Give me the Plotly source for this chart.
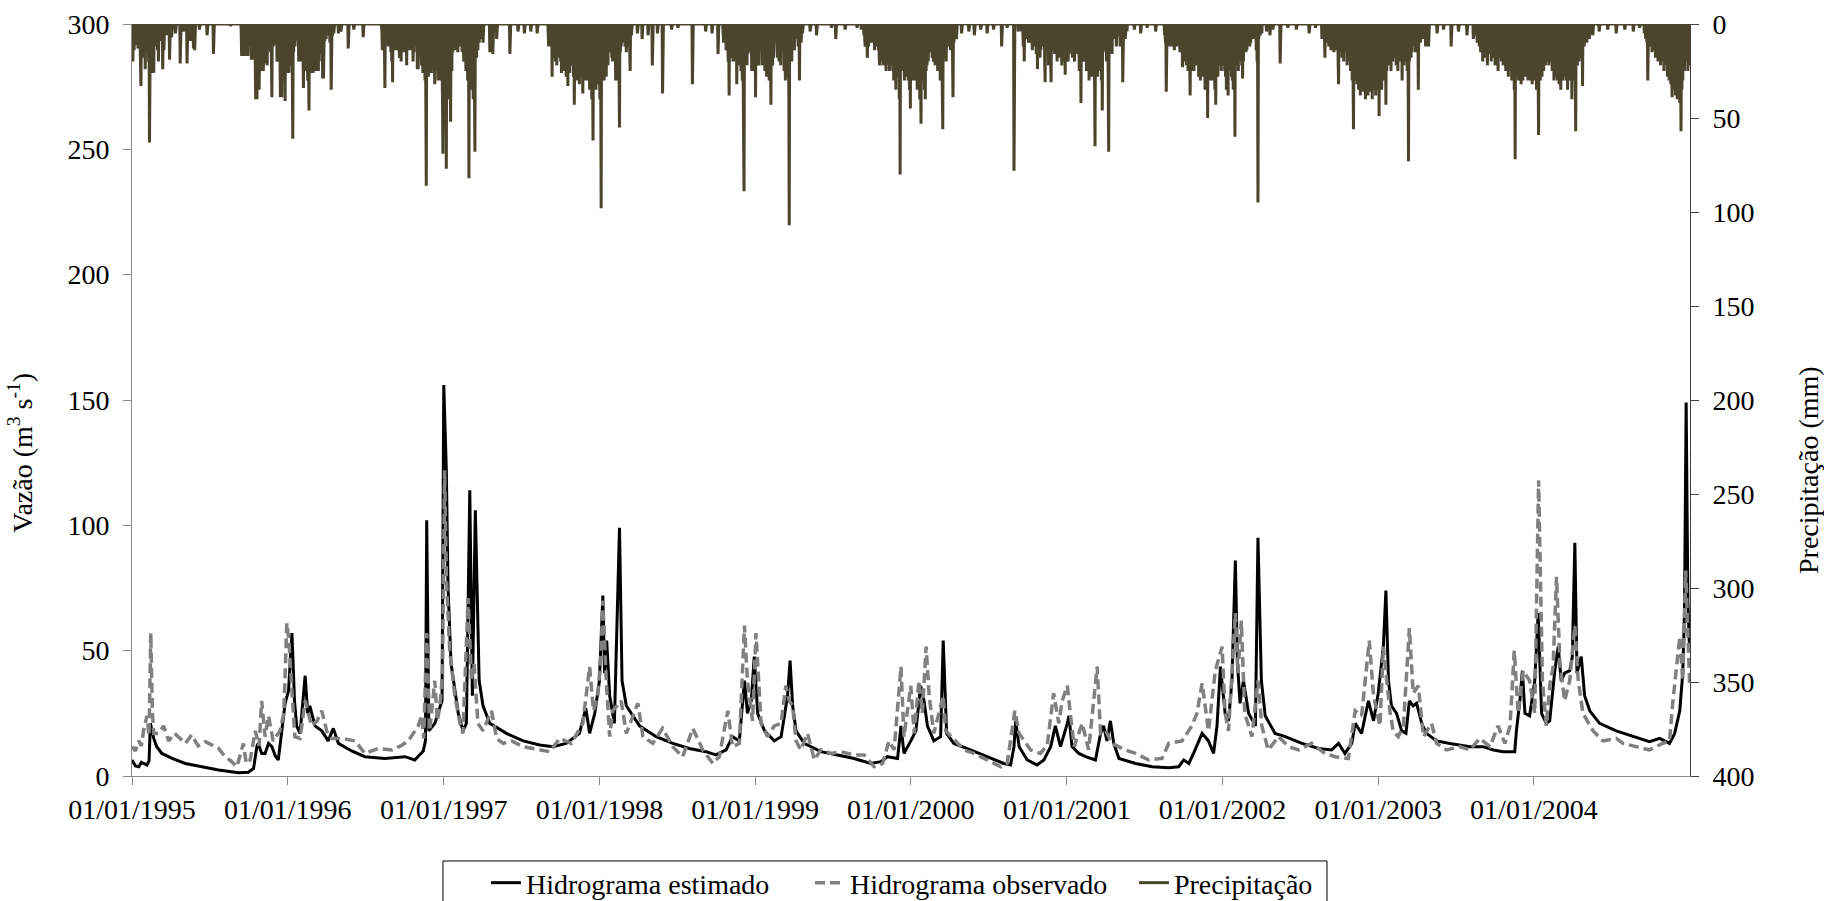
import numpy as np
import pandas as pd
import plotly.graph_objects as go

START = pd.Timestamp("1995-01-01")
N_DAYS = 3653  # 1995-01-01 .. 2004-12-31

# Simulated streamflow (m3/s): day offset from 1995-01-01, discharge
est_points = [
    (0, 6.4), (8, 4), (16, 3.7), (22, 5.5), (27, 5), (35, 4.4), (40, 6), (43, 21), (47, 18), (51, 15),
    (58, 11.7), (70, 9), (94, 7), (125, 5), (164, 3.7), (203, 2.4), (250, 1.3), (273, 1.5), (285, 3),
    (293, 12), (296, 13), (304, 9), (312, 9), (320, 13), (328, 11.7), (336, 8), (343, 6.4), (351, 17),
    (359, 29), (367, 34), (375, 57), (381, 30), (386, 20), (394, 17), (406, 40), (412, 25), (417, 28),
    (429, 20), (445, 18), (460, 14), (472, 19), (484, 13), (515, 10), (546, 7.7), (593, 7), (640, 7.7),
    (663, 6.4), (683, 10), (688, 14), (691, 102), (696, 18), (710, 21), (722, 28), (727, 30), (731, 156),
    (737, 122), (741, 75), (748, 45), (765, 25), (776, 18), (784, 21), (792, 114), (798, 32), (805, 106),
    (814, 38), (823, 28), (839, 21), (878, 17), (917, 14), (956, 12.4), (987, 11.7), (1018, 13),
    (1049, 17), (1064, 27), (1073, 17), (1085, 25), (1096, 38), (1104, 72), (1108, 41), (1113, 54),
    (1120, 32), (1131, 21), (1143, 99), (1149, 38), (1159, 28), (1190, 20), (1229, 15.7), (1268, 13),
    (1307, 11), (1346, 9.7), (1369, 8.4), (1393, 10.4), (1408, 15.7), (1424, 14), (1436, 38), (1443, 25),
    (1452, 30), (1459, 47.6), (1467, 25), (1483, 18), (1506, 14), (1522, 15.7), (1537, 32), (1543, 46),
    (1549, 28), (1557, 18), (1576, 13), (1615, 9.7), (1654, 8.4), (1693, 7), (1732, 5), (1756, 5.7),
    (1771, 7.7), (1795, 7), (1803, 20), (1810, 9), (1826, 14), (1838, 18), (1849, 36), (1857, 30),
    (1865, 20), (1880, 14), (1896, 15.7), (1902, 54), (1910, 17), (1927, 13), (1966, 10.4), (2005, 7.7),
    (2044, 5), (2060, 4.4), (2068, 11.7), (2072, 22), (2080, 11.7), (2099, 6.4), (2122, 4.4), (2138, 6.4),
    (2154, 11.7), (2165, 20), (2177, 11.7), (2193, 21), (2197, 24), (2204, 11.7), (2220, 9), (2236, 7.7),
    (2259, 6.4), (2271, 17), (2278, 20), (2286, 14), (2294, 22), (2302, 13), (2314, 7), (2353, 5),
    (2392, 3.7), (2431, 3.3), (2454, 3.7), (2466, 6.4), (2478, 5), (2489, 9), (2509, 17), (2524, 14),
    (2536, 9), (2544, 20), (2552, 43.6), (2563, 25), (2571, 22), (2579, 38), (2587, 86), (2592, 45),
    (2598, 29), (2606, 38), (2618, 25), (2634, 20), (2640, 95), (2648, 38), (2657, 24), (2680, 17),
    (2704, 15.7), (2743, 13), (2782, 11), (2813, 10.4), (2829, 13), (2844, 9), (2860, 13), (2868, 21),
    (2883, 17), (2899, 30), (2911, 22), (2922, 33), (2934, 51.6), (2940, 74), (2946, 38), (2953, 28),
    (2965, 25), (2977, 18), (2987, 17), (2995, 30), (3004, 28), (3012, 29), (3024, 21), (3035, 17),
    (3059, 14), (3090, 13), (3137, 11.7), (3168, 11.7), (3192, 10.4), (3215, 9.7), (3242, 9.7),
    (3246, 18), (3254, 30), (3260, 42), (3266, 25), (3277, 24), (3289, 38), (3297, 65), (3305, 25),
    (3316, 21), (3324, 22), (3336, 42), (3344, 51.6), (3351, 38), (3359, 41), (3371, 42), (3377, 47.6),
    (3383, 93), (3388, 41), (3398, 47.6), (3406, 32), (3418, 26), (3441, 21), (3480, 18), (3519, 15.7),
    (3558, 13.7), (3582, 15), (3605, 13), (3617, 17), (3629, 26), (3636, 41), (3640, 65), (3644, 149),
    (3648, 70), (3652, 50),
]

# Observed streamflow (m3/s): day offset from 1995-01-01, discharge
obs_points = [
    (0, 11.7), (8, 10), (16, 14), (22, 12), (27, 18), (35, 24), (40, 16), (44, 57), (48, 25), (51, 17),
    (62, 17), (74, 20), (86, 14), (100, 17), (113, 15), (125, 13), (140, 16.4), (155, 12), (172, 13.7),
    (190, 12), (203, 11), (218, 7.7), (232, 6), (246, 3.7), (261, 13), (268, 5), (277, 6.4), (289, 18),
    (298, 12), (304, 30), (312, 15.7), (320, 24), (331, 14), (347, 18), (356, 25), (363, 61), (368, 54),
    (375, 34), (382, 15.7), (394, 15), (406, 30), (421, 20), (434, 22), (445, 26), (458, 17), (468, 15),
    (492, 15), (523, 14), (546, 9), (577, 11), (609, 10.4), (630, 12), (648, 14), (671, 20), (679, 24),
    (684, 15), (691, 57), (698, 18), (710, 38), (716, 22), (722, 28), (728, 41), (733, 122), (737, 80),
    (741, 60), (745, 50), (757, 32), (769, 21), (776, 17), (788, 71), (796, 38), (802, 45), (811, 21),
    (823, 18), (843, 26), (855, 15), (870, 13), (890, 14), (917, 11.7), (956, 10.4), (979, 9.7),
    (1003, 15), (1030, 13), (1057, 21), (1073, 43.6), (1082, 26), (1092, 32), (1100, 49), (1104, 70),
    (1112, 38), (1120, 15.7), (1127, 26), (1147, 30), (1159, 17), (1186, 29), (1198, 15.7), (1221, 13),
    (1244, 19), (1268, 11.7), (1291, 7.7), (1315, 19), (1338, 10.4), (1362, 5), (1377, 7.7), (1397, 26),
    (1408, 11.7), (1424, 13), (1436, 60), (1443, 38), (1455, 22), (1463, 57), (1467, 45), (1475, 21),
    (1490, 15.7), (1506, 20), (1522, 21), (1533, 36), (1541, 30), (1549, 28), (1557, 14), (1568, 10.4),
    (1584, 17), (1600, 6.4), (1615, 10.4), (1639, 9), (1662, 9.7), (1693, 8.4), (1717, 8.4), (1740, 3.7),
    (1760, 5), (1775, 14), (1787, 10.4), (1803, 43.6), (1810, 15.7), (1826, 36), (1834, 17), (1845, 38),
    (1853, 25), (1862, 51.6), (1869, 32), (1880, 17), (1902, 32), (1908, 18), (1931, 14), (1951, 10.4),
    (1974, 9), (2005, 6.4), (2037, 3.7), (2052, 5), (2070, 26), (2080, 17), (2107, 10.4), (2130, 9),
    (2146, 12.4), (2161, 33), (2173, 21), (2181, 30), (2193, 36), (2200, 25), (2209, 11.7), (2228, 21),
    (2243, 10.4), (2263, 43.6), (2271, 17), (2283, 18), (2298, 13), (2329, 10.4), (2353, 9), (2384, 6.4),
    (2415, 7), (2431, 13), (2462, 14), (2485, 20), (2497, 25), (2509, 37), (2524, 18), (2540, 42),
    (2556, 51.6), (2563, 25), (2571, 18), (2579, 41), (2587, 65), (2593, 41), (2601, 62), (2609, 25),
    (2626, 15.7), (2640, 38), (2649, 20), (2664, 10.4), (2688, 15.7), (2712, 11.7), (2735, 10.4),
    (2766, 13), (2797, 9), (2821, 7.7), (2852, 7), (2868, 26), (2883, 24), (2901, 54), (2911, 32),
    (2926, 20), (2934, 51.6), (2942, 38), (2950, 25), (2957, 18), (2969, 15.7), (2981, 20), (2995, 59),
    (3004, 33), (3016, 36), (3028, 15.7), (3047, 21), (3059, 13), (3082, 10.4), (3113, 11.7),
    (3137, 10.4), (3160, 15), (3184, 11.7), (3203, 20), (3219, 13), (3231, 20), (3241, 50), (3250, 25),
    (3262, 42), (3277, 38), (3289, 25), (3298, 118), (3307, 38), (3316, 20), (3324, 36), (3332, 43.6),
    (3340, 79.5), (3348, 45), (3359, 30), (3371, 38), (3383, 60), (3391, 38), (3402, 25), (3426, 18),
    (3449, 14), (3480, 15), (3496, 13), (3527, 11.7), (3558, 10.4), (3589, 13), (3605, 14), (3613, 30),
    (3629, 55.6), (3636, 38), (3643, 82), (3652, 37),
]

# Daily rainfall (mm) for the wet seasons: (first day offset, consecutive daily totals)
rain_spells = [
    (0, [12, 0, 20, 0, 9, 14, 0, 8, 0, 11,
         0, 5, 9, 0, 13, 0, 8, 12, 0, 10,
         15, 33, 0, 12, 0, 18, 8, 0, 10, 14,
         0, 24, 6, 0, 12, 0, 14, 0, 9, 20,
         0, 63, 12, 0, 8, 18, 0, 11, 26, 0,
         10, 26, 0, 8, 0, 9, 12, 0, 6, 0,
         14, 0, 20, 0, 0, 5, 9, 0, 7, 0,
         6, 0, 24, 9, 0, 14, 0, 0, 4, 0,
         0, 0, 6, 0, 0, 5, 0, 0, 19, 0,
         0, 0, 0, 7, 0, 0]),
    (255, [0, 3, 17, 0, 15, 0, 8, 17, 0, 14,
           0, 6, 17, 0, 9, 0, 16, 17, 0, 12,
           0, 7, 0, 10, 0, 19, 0, 12, 6, 0,
           19, 0, 10, 0, 18, 40, 0, 9, 40, 0,
           8, 25, 0, 35, 0, 0, 12, 0, 14, 25,
           0, 18, 0, 25, 8, 0, 15, 0, 21, 0,
           18, 0, 22, 0, 14, 0, 6, 0, 12, 0,
           15, 0, 28, 39, 0, 0, 12, 5, 0, 9,
           0, 6, 0, 11, 0, 20, 0, 12, 20, 0,
           10, 0, 28, 39, 0, 12, 39, 0, 8, 22,
           0, 18, 0, 25, 41, 0, 20, 0, 26, 0,
           20, 0, 14, 26, 0, 8, 22, 0, 14, 19,
           0, 25, 61, 0, 15, 0, 0, 12, 0, 9,
           0, 5, 0, 8, 0, 14, 20, 0, 6, 0,
           12, 0, 20, 0, 20, 0, 26, 34, 0, 9,
           14, 0, 25, 0, 8, 0, 22, 30, 0, 18,
           46, 0, 25, 0, 8, 26, 0, 22, 0, 10,
           26, 0, 9, 0, 12, 0, 25, 0, 18, 0,
           25, 0, 25, 0, 8, 16, 0, 0, 12, 0,
           20, 0, 29, 0, 29, 0, 0, 9, 0, 5,
           8, 0, 0, 6, 0, 0, 5, 0, 0, 10,
           0, 0, 35, 0, 0, 6, 0, 0, 5, 0]),
    (585, [0, 5, 14, 0, 10, 0, 0, 15, 34, 0,
           8, 0, 0, 10, 0, 6, 12, 0, 9, 0,
           10, 0, 15, 0, 20, 0, 31, 0, 6, 0,
           12, 0, 0, 14, 0, 14, 0, 12, 0, 8,
           0, 12, 18, 0, 14, 0, 20, 0, 0, 15,
           0, 14, 0, 12, 0, 15, 0, 14, 0, 22,
           0, 12, 0, 14, 0, 10, 0, 12, 14, 0,
           12, 0, 8, 0, 20, 0, 15, 0, 8, 0,
           12, 0, 9, 0, 24, 0, 24, 0, 10, 12,
           0, 12, 0, 8, 22, 0, 10, 26, 0, 18,
           0, 20, 30, 0, 25, 86, 0, 14, 20, 0,
           28, 0, 20, 0, 14, 25, 0, 26, 0, 20,
           0, 24, 0, 18, 22, 32, 0, 20, 0, 25,
           18, 0, 22, 30, 0, 20, 0, 30, 0, 12,
           20, 0, 12, 40, 69, 0, 15, 28, 0, 55,
           0, 40, 77, 0, 35, 0, 22, 28, 0, 40,
           0, 30, 52, 0, 12, 25, 0, 15, 0, 6,
           10, 0, 14, 0, 0, 12, 0, 0, 9, 15,
           0, 8, 0, 0, 6, 12, 0, 10, 0, 15,
           0, 0, 12, 20, 0, 14, 0, 10, 25, 0,
           15, 0, 30, 25, 0, 82, 0, 18, 25, 0,
           35, 0, 22, 30, 0, 40, 25, 0, 30, 68,
           0, 15, 0, 18, 0, 10, 14, 0, 0, 10,
           5, 0, 8, 0, 0, 6, 0, 0, 10, 0]),
    (975, [0, 6, 12, 0, 8, 0, 10, 0, 12, 0,
           28, 0, 10, 18, 0, 0, 12, 0, 20, 9,
           0, 22, 0, 8, 18, 0, 12, 0, 15, 0,
           20, 0, 26, 0, 8, 22, 0, 18, 0, 25,
           0, 20, 0, 28, 18, 0, 22, 33, 0, 20,
           0, 26, 0, 22, 10, 0, 15, 20, 0, 12,
           28, 0, 43, 20, 0, 25, 0, 30, 0, 22,
           15, 0, 20, 0, 32, 0, 25, 0, 20, 28,
           0, 22, 37, 0, 25, 0, 20, 30, 0, 14,
           25, 0, 30, 0, 22, 28, 0, 20, 35, 0,
           22, 0, 15, 40, 0, 18, 62, 0, 20, 0,
           30, 0, 18, 35, 0, 12, 28, 0, 15, 32,
           0, 25, 40, 0, 22, 98, 0, 20, 28, 0,
           22, 0, 30, 0, 25, 0, 15, 28, 0, 18,
           0, 22, 0, 15, 0, 10, 14, 0, 8, 0,
           18, 0, 20, 0, 8, 15, 0, 12, 0, 30,
           0, 20, 0, 25, 0, 30, 0, 40, 55, 0,
           15, 0, 12, 0, 10, 0, 8, 0, 0, 10,
           0, 12, 0, 0, 15, 0, 0, 6, 0, 12,
           0, 0, 14, 25, 0, 0, 6, 0, 0, 0]),
    (1385, [0, 5, 10, 0, 8, 0, 6, 0, 14, 0,
            8, 0, 12, 20, 0, 38, 0, 8, 18, 0,
            10, 0, 8, 0, 20, 0, 6, 15, 0, 18,
            0, 20, 0, 32, 0, 18, 0, 8, 22, 0,
            15, 0, 10, 25, 0, 18, 30, 0, 20, 40,
            89, 0, 15, 0, 12, 18, 0, 22, 0, 16,
            0, 12, 0, 8, 15, 0, 10, 0, 25, 0,
            18, 0, 15, 0, 12, 25, 0, 39, 0, 20,
            0, 18, 0, 15, 22, 0, 14, 0, 12, 0,
            10, 0, 22, 0, 20, 0, 8, 18, 0, 25,
            0, 20, 0, 28, 18, 0, 22, 0, 20, 30,
            0, 18, 0, 43, 0, 15, 0, 22, 0, 18,
            12, 0, 8, 0, 10, 0, 6, 0, 18, 0,
            14, 0, 20, 0, 8, 0, 22, 0, 14, 0,
            12, 0, 15, 0, 25, 0, 12, 30, 0, 20,
            0, 15, 28, 0, 20, 35, 107, 0, 18, 0,
            15, 0, 20, 0, 12, 0, 10, 0, 14, 0,
            8, 0, 0, 6, 0, 0, 5, 12, 0, 0,
            30, 0, 6, 0, 10, 0, 0, 5, 0, 0]),
    (1715, [0, 6, 0, 8, 12, 0, 5, 0, 0, 18,
            8, 0, 12, 0, 0, 10, 0, 0, 8, 5,
            0, 0, 10, 0, 8, 0, 14, 0, 12, 0,
            10, 0, 8, 0, 0, 14, 0, 18, 22, 0,
            15, 0, 20, 0, 10, 0, 22, 0, 8, 18,
            0, 20, 0, 25, 0, 18, 0, 22, 0, 20,
            0, 25, 0, 12, 22, 0, 15, 0, 12, 25,
            0, 30, 0, 15, 25, 0, 35, 0, 28, 0,
            15, 0, 25, 0, 40, 0, 80, 0, 22, 0,
            25, 0, 15, 0, 22, 0, 30, 0, 15, 20,
            0, 28, 0, 25, 0, 30, 0, 22, 35, 0,
            45, 0, 25, 0, 30, 0, 15, 28, 0, 25,
            0, 30, 0, 15, 25, 0, 35, 0, 28, 0,
            30, 0, 40, 0, 22, 53, 0, 20, 0, 18,
            0, 30, 0, 35, 0, 40, 0, 25, 0, 22,
            18, 0, 20, 0, 10, 0, 12, 0, 8, 15,
            0, 18, 0, 8, 20, 0, 15, 0, 22, 0,
            12, 0, 8, 0, 25, 0, 18, 0, 22, 0,
            30, 0, 25, 0, 22, 35, 56, 0, 15, 0,
            18, 0, 14, 0, 20, 0, 6, 0, 10, 0,
            12, 0, 10, 0, 14, 0, 8, 0, 0, 20,
            39, 0, 10, 0, 6, 0, 0, 0, 8, 0]),
    (2085, [0, 4, 0, 0, 6, 12, 0, 20, 0, 0,
            5, 0, 0, 8, 0, 6, 0, 10, 0, 0,
            8, 0, 10, 0, 0, 6, 14, 0, 0, 12,
            0, 10, 0, 8, 0, 16, 0, 0, 24, 0,
            10, 0, 8, 0, 18, 0, 14, 0, 0, 8,
            0, 10, 0, 12, 0, 20, 31, 0, 10, 0,
            12, 0, 8, 0, 22, 0, 14, 0, 12, 25,
            31, 0, 10, 0, 12, 0, 14, 0, 16, 0,
            12, 0, 10, 0, 20, 0, 8, 0, 18, 0,
            15, 0, 12, 0, 10, 22, 0, 16, 0, 20,
            0, 14, 0, 27, 0, 16, 0, 10, 0, 14,
            20, 0, 16, 0, 14, 0, 10, 0, 15, 0,
            18, 0, 14, 0, 12, 20, 0, 15, 0, 10,
            14, 0, 16, 0, 12, 0, 25, 0, 20, 0,
            42, 0, 15, 0, 18, 0, 12, 20, 0, 16,
            0, 14, 0, 25, 0, 22, 0, 20, 0, 30,
            0, 22, 0, 25, 0, 14, 28, 0, 22, 0,
            20, 0, 30, 65, 0, 18, 0, 15, 0, 28,
            0, 22, 0, 12, 25, 0, 14, 0, 30, 0,
            46, 0, 15, 0, 12, 0, 14, 0, 10, 0,
            20, 0, 18, 0, 30, 68, 0, 12, 0, 10,
            0, 8, 0, 16, 0, 6, 0, 0, 8, 0,
            6, 0, 0, 12, 0, 0, 6, 0, 0, 5,
            0, 0, 12, 0, 0, 10, 0, 0, 31, 0,
            0, 6, 0, 0, 8, 0, 0, 0, 4, 0]),
    (2420, [0, 6, 0, 10, 0, 36, 0, 0, 5, 0,
            8, 0, 0, 12, 0, 8, 0, 0, 6, 0,
            12, 0, 0, 6, 14, 0, 10, 0, 0, 12,
            0, 10, 0, 8, 0, 12, 0, 15, 0, 8,
            0, 10, 0, 23, 0, 8, 15, 0, 20, 0,
            16, 0, 22, 0, 18, 0, 25, 0, 20, 0,
            18, 38, 0, 15, 0, 25, 0, 18, 22, 0,
            25, 0, 18, 0, 15, 22, 0, 18, 0, 20,
            0, 28, 0, 25, 0, 30, 0, 15, 25, 0,
            28, 0, 18, 0, 25, 0, 35, 0, 28, 0,
            30, 0, 50, 0, 20, 0, 30, 0, 22, 0,
            20, 0, 30, 0, 28, 0, 25, 0, 22, 35,
            0, 43, 0, 25, 0, 20, 28, 0, 18, 0,
            20, 0, 22, 0, 25, 0, 22, 0, 20, 0,
            22, 0, 25, 0, 28, 0, 35, 0, 30, 0,
            38, 0, 20, 0, 22, 0, 25, 0, 28, 0,
            30, 0, 35, 0, 22, 0, 60, 0, 22, 0,
            20, 0, 22, 0, 25, 0, 15, 0, 18, 0,
            20, 0, 22, 0, 29, 0, 20, 0, 10, 0,
            12, 0, 15, 0, 14, 0, 12, 0, 10, 0,
            0, 12, 0, 10, 0, 8, 0, 0, 6, 0,
            0, 8, 0, 0, 6, 0, 14, 0, 20, 0,
            95, 0, 8, 0, 0, 6, 0, 0, 0, 5]),
    (2795, [0, 8, 18, 0, 0, 6, 0, 0, 10, 0,
            0, 12, 0, 0, 8, 0, 14, 0, 0, 6,
            0, 10, 0, 15, 0, 0, 12, 0, 8, 0,
            14, 0, 0, 20, 32, 0, 10, 0, 15, 0,
            8, 0, 18, 0, 12, 0, 20, 0, 10, 0,
            15, 0, 12, 0, 22, 0, 18, 0, 14, 0,
            20, 0, 25, 0, 18, 0, 30, 0, 22, 56,
            0, 28, 0, 30, 0, 25, 0, 32, 0, 28,
            0, 35, 0, 30, 0, 38, 0, 28, 0, 32,
            0, 36, 0, 30, 0, 34, 0, 40, 0, 32,
            0, 30, 0, 38, 0, 34, 0, 30, 0, 36,
            0, 32, 0, 40, 0, 28, 0, 35, 0, 30,
            0, 38, 0, 32, 0, 28, 0, 35, 0, 49,
            0, 30, 0, 28, 0, 35, 0, 25, 0, 30,
            0, 28, 0, 22, 0, 43, 0, 25, 0, 20,
            0, 18, 0, 22, 0, 15, 0, 25, 0, 18,
            0, 20, 0, 12, 0, 18, 0, 15, 0, 22,
            0, 14, 0, 25, 0, 12, 0, 20, 0, 15,
            0, 18, 0, 30, 0, 15, 0, 22, 0, 12,
            0, 20, 0, 15, 0, 25, 0, 18, 73, 0,
            20, 0, 12, 0, 18, 0, 15, 0, 10, 0,
            12, 0, 8, 0, 15, 0, 10, 0, 0, 14,
            0, 35, 0, 8, 0, 0, 10, 0, 0, 6,
            0, 0, 8, 0, 0, 5, 0, 0, 12, 0]),
    (3150, [0, 6, 0, 0, 10, 0, 8, 0, 0, 12,
            0, 0, 15, 0, 8, 0, 0, 20, 0, 10,
            0, 14, 0, 0, 18, 0, 8, 0, 22, 0,
            12, 0, 0, 16, 0, 10, 0, 20, 0, 0,
            14, 0, 18, 0, 8, 0, 22, 0, 12, 0,
            15, 0, 0, 25, 0, 10, 0, 18, 0, 12,
            0, 20, 0, 15, 0, 22, 0, 10, 0, 18,
            0, 25, 0, 15, 0, 20, 0, 28, 0, 22,
            0, 18, 0, 25, 0, 30, 0, 20, 0, 28,
            0, 35, 0, 72, 0, 22, 0, 28, 0, 25,
            0, 30, 0, 22, 0, 28, 0, 32, 0, 25,
            0, 30, 0, 20, 0, 28, 0, 25, 0, 22,
            0, 28, 0, 30, 0, 20, 0, 26, 0, 30,
            0, 25, 0, 32, 0, 28, 0, 22, 0, 30,
            0, 28, 0, 35, 0, 30, 0, 25, 59, 0,
            22, 0, 30, 0, 25, 0, 28, 0, 20, 0,
            25, 0, 18, 0, 22, 0, 20, 0, 15, 0,
            18, 0, 22, 0, 12, 0, 20, 0, 15, 0,
            25, 0, 18, 0, 30, 0, 20, 0, 28, 0,
            22, 0, 30, 0, 25, 0, 32, 0, 28, 0,
            35, 0, 25, 0, 30, 0, 22, 0, 28, 0,
            20, 0, 30, 0, 25, 0, 35, 0, 22, 0,
            30, 0, 25, 0, 28, 0, 40, 0, 22, 0,
            30, 0, 20, 0, 25, 57, 0, 18, 0, 22,
            0, 15, 0, 20, 0, 12, 0, 18, 0, 10,
            0, 33, 0, 8, 0, 12, 0, 0, 6, 0,
            0, 10, 0, 0, 5, 0, 0, 8, 0, 0]),
    (3545, [0, 5, 0, 0, 8, 0, 0, 10, 0, 30,
            0, 0, 8, 0, 12, 0, 0, 10, 0, 15,
            0, 8, 0, 14, 0, 10, 0, 18, 0, 12,
            0, 15, 0, 20, 0, 12, 0, 18, 0, 22,
            0, 16, 0, 20, 0, 14, 0, 25, 0, 18,
            0, 22, 0, 20, 0, 28, 0, 24, 0, 30,
            0, 25, 0, 32, 0, 28, 39, 0, 30, 0,
            35, 0, 28, 0, 38, 0, 30, 0, 40, 0,
            35, 0, 38, 0, 42, 0, 40, 57, 0, 35,
            0, 30, 0, 20, 0, 25, 0, 18, 0, 15,
            0, 20, 0, 25, 0, 22, 0, 15]),
]

# Isolated rain days in the dry seasons: (day offset, mm)
rain_events = [
    (102, 5), (113, 21), (121, 4), (129, 21), (137, 9), (144, 13), (147, 14), (158, 3), (176, 6),
    (191, 16), (231, 1), (484, 5), (490, 4), (507, 13), (520, 3), (542, 7), (839, 15), (846, 16),
    (855, 8), (886, 16), (905, 4), (920, 5), (935, 4), (950, 5), (1185, 5), (1196, 8), (1210, 6),
    (1220, 22), (1232, 5), (1244, 37), (1265, 3), (1280, 2), (1314, 32), (1345, 4), (1360, 5),
    (1374, 16), (1590, 4), (1605, 6), (1640, 2), (1650, 8), (1672, 3), (1700, 2), (1710, 3),
    (1945, 5), (1962, 4), (1975, 6), (1990, 3), (2005, 5), (2020, 3), (2039, 12), (2052, 2),
    (2068, 78), (2078, 4), (2350, 3), (2365, 5), (2380, 2), (2400, 4), (2660, 4), (2668, 6),
    (2675, 3), (2692, 21), (2710, 2), (2730, 3), (2760, 5), (2775, 2), (2790, 8), (3040, 12),
    (3060, 5), (3075, 3), (3093, 12), (3110, 4), (3130, 6), (3145, 8), (3425, 6), (3440, 4),
    (3460, 3), (3480, 5), (3500, 3), (3520, 4), (3535, 2),
]

tick_years = list(range(1995, 2005))


def to_dates(offsets):
    return START + pd.to_timedelta(np.asarray(offsets), unit="D")


est_x = to_dates([d for d, _ in est_points])
est_q = [q for _, q in est_points]
obs_x = to_dates([d for d, _ in obs_points])
obs_q = [q for _, q in obs_points]

rain = np.zeros(N_DAYS)
for start, values in rain_spells:
    rain[start:start + len(values)] = values[: N_DAYS - start]
for day, mm in rain_events:
    rain[day] = mm
rain_x = pd.date_range(START, periods=N_DAYS, freq="D")

FONT = "'Liberation Serif', 'Times New Roman', Times, serif"
AXIS_GREY = "#8a8a8a"

fig = go.Figure()
fig.add_trace(go.Scatter(
    x=est_x, y=est_q, mode="lines", name="Hidrograma estimado",
    line=dict(color="#000000", width=3),
))
fig.add_trace(go.Scatter(
    x=obs_x, y=obs_q, mode="lines", name="Hidrograma observado",
    line=dict(color="#808080", width=3.5, dash="10px,5px"),
))
fig.add_trace(go.Scatter(
    x=rain_x, y=rain, mode="lines", name="Precipitação", yaxis="y2",
    line=dict(color="#4b452d", width=3),
))

fig.update_layout(
    width=1824, height=901,
    margin=dict(l=132, r=134, t=24, b=125, autoexpand=False),
    paper_bgcolor="white", plot_bgcolor="white",
    font=dict(family=FONT, size=28, color="#000000"),
    xaxis=dict(
        range=[START, pd.Timestamp("2005-01-01")],
        tickvals=[pd.Timestamp(f"{y}-01-01") for y in tick_years],
        ticktext=[f"01/01/{y}" for y in tick_years],
        ticks="outside", ticklen=8, tickcolor=AXIS_GREY, tickwidth=1,
        showline=True, linecolor=AXIS_GREY, linewidth=1,
        showgrid=False, zeroline=False,
    ),
    yaxis=dict(
        range=[0, 300], tick0=0, dtick=50,
        ticks="outside", ticklen=8, tickcolor=AXIS_GREY, tickwidth=1,
        ticklabelstandoff=8,
        showline=True, linecolor=AXIS_GREY, linewidth=1,
        showgrid=False, zeroline=False,
    ),
    yaxis2=dict(
        overlaying="y", side="right", range=[400, 0], tick0=0, dtick=50,
        ticks="outside", ticklen=8, tickcolor="#404040", tickwidth=1,
        ticklabelstandoff=8,
        showline=True, linecolor="#404040", linewidth=1,
        showgrid=False, zeroline=False,
    ),
    legend=dict(
        orientation="h", x=0.2272, xanchor="left", y=-0.109, yanchor="top",
        borderwidth=0, bgcolor="rgba(0,0,0,0)",
        font=dict(family=FONT, size=28), itemwidth=30,
        entrywidth=279, entrywidthmode="pixels",
    ),
    shapes=[
        # legend frame, running off the bottom edge of the page
        dict(type="rect", xref="paper", yref="paper",
             x0=0.1996, x1=0.767, y0=-0.113, y1=-0.32,
             line=dict(color="#000000", width=1), fillcolor="rgba(0,0,0,0)", layer="above"),
    ],
    annotations=[
        dict(text="Vazão (m<sup>3</sup> s<sup>-1</sup>)", xref="paper", yref="paper",
             x=-0.0712, y=0.43, xanchor="center", yanchor="middle", textangle=-90,
             showarrow=False, font=dict(family=FONT, size=28)),
        dict(text="Precipitação (mm)", xref="paper", yref="paper",
             x=1.0764, y=0.407, xanchor="center", yanchor="middle", textangle=-90,
             showarrow=False, font=dict(family=FONT, size=28)),
    ],
)

fig.write_html("out.html")
